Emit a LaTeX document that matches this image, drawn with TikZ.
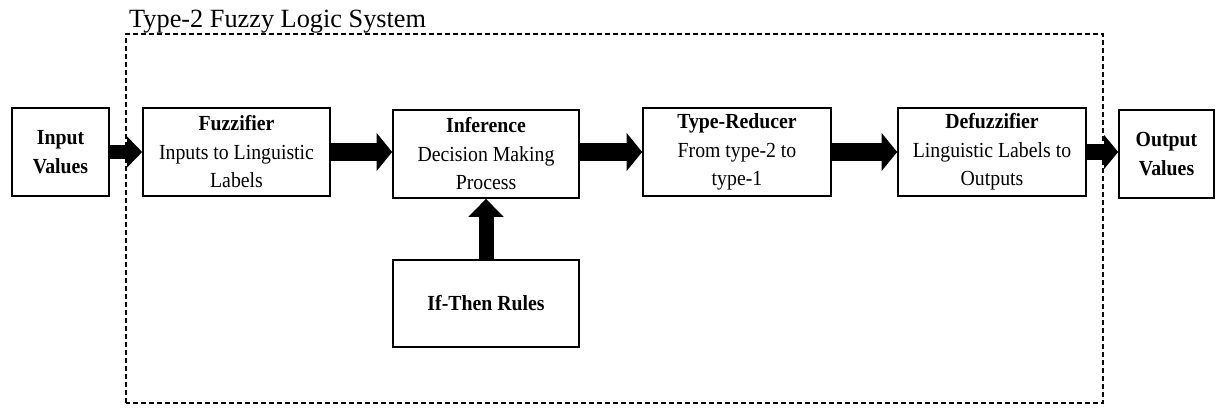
\documentclass[tikz,border=0pt]{standalone}
\usepackage{fontspec}
\setmainfont[FakeStretch=0.92]{Liberation Serif}
\newfontfamily\captionfont{Liberation Serif}
\usetikzlibrary{arrows.meta}
\begin{document}
\begin{tikzpicture}[x=1pt,y=1pt,
  blockbox/.style={draw, line width=1.6pt, inner sep=0pt, align=center,
    minimum height=88pt, font=\fontsize{21.5}{28.5}\selectfont},
  fatarrow/.style={line width=17.5pt, line cap=butt,
    -{Triangle[length=15.5pt,width=37pt]}},
  slimarrow/.style={line width=14pt, line cap=butt,
    -{Triangle[length=15pt,width=30pt]}},
  risearrow/.style={line width=15pt, line cap=butt,
    -{Triangle[length=18pt,width=34pt]}},
  framebox/.style={line width=1.2pt, dash pattern=on 5pt off 3pt}]
\useasboundingbox (0,0) rectangle (1217,407);

% system boundary and its caption
\coordinate (frameSW) at (126,4);
\coordinate (frameNE) at (1103,373);
\draw[framebox] (frameSW) rectangle (frameNE);
\node[anchor=base west, inner sep=0pt, font=\captionfont\fontsize{26.3}{30}\selectfont]
  (title) at (129,379) {Type-2 Fuzzy Logic System};

% processing blocks
\node[blockbox, minimum width=97pt]  (in)    at (60.5,255)  {\textbf{Input}\\\textbf{Values}};
\node[blockbox, minimum width=187pt] (fuzz)  at (236.5,255) {\textbf{Fuzzifier}\\Inputs to Linguistic\\Labels};
\node[blockbox, minimum width=186pt] (inf)   at (486,253)   {\textbf{Inference}\\Decision Making\\Process};
\node[blockbox, minimum width=188pt] (tr)    at (737,255)   {\textbf{Type-Reducer}\\From type-2 to\\type-1};
\node[blockbox, minimum width=188pt] (def)   at (992,255)   {\textbf{Defuzzifier}\\Linguistic Labels to\\Outputs};
\node[blockbox, minimum width=95pt]  (out)   at (1166.5,253) {\textbf{Output}\\\textbf{Values}};
\node[blockbox, minimum width=186pt, minimum height=87pt] (rules) at (486,103.5) {\textbf{If-Then Rules}};

% data flow
\draw[slimarrow] (in.east) -- (fuzz.west);
\draw[fatarrow]  (fuzz.east) -- (fuzz.east -| inf.west);
\draw[fatarrow]  (inf.east |- tr.west) -- (tr.west);
\draw[fatarrow]  (tr.east) -- (def.west);
\draw[slimarrow, line width=16.5pt, -{Triangle[length=14pt,width=33pt]}]
  (def.east) -- (def.east -| out.west);
\draw[risearrow] (rules.north) -- (inf.south);
\end{tikzpicture}
\end{document}
